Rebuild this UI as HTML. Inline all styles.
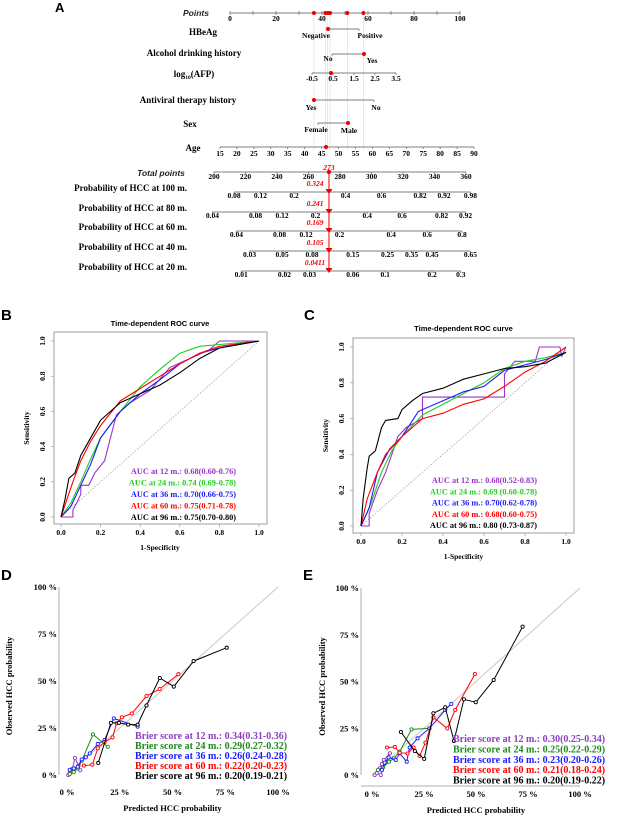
<!DOCTYPE html>
<html><head><meta charset="utf-8">
<style>
html,body{margin:0;padding:0;background:#fff;}
svg{display:block;}
.s{font-family:"Liberation Serif",serif;font-weight:bold;}
.a{font-family:"Liberation Sans",sans-serif;font-weight:bold;}
</style></head>
<body>
<svg id="fig" width="623" height="819" viewBox="0 0 623 819" xmlns="http://www.w3.org/2000/svg">
<g id="nomo">
<text x="55" y="12" class="a" font-size="13">A</text>
</g>
<g id="rocB"></g>
<g id="rocC"></g>
<g id="calD"></g>
<g id="calE"></g>
</svg>
<script>
const NS="http://www.w3.org/2000/svg";
function mk(parent,tag,attrs,txt){const e=document.createElementNS(NS,tag);for(const k in attrs)e.setAttribute(k,attrs[k]);if(txt!==undefined)e.textContent=txt;parent.appendChild(e);return e;}
const S=1.2;

/* ---------- Nomogram data ---------- */
const pointTicks=[0,20,40,60,80,100];
const patientPoints=[36.5,41.5,42.5,43.5,51,58];
const ageTicks=[15,20,25,30,35,40,45,50,55,60,65,70,75,80,85,90];
const afpTicks=["-0.5","0.5","1.5","2.5","3.5"];
const totalTicks=[200,220,240,260,280,300,320,340,360];
const totalValue=273;
const probRows=["Probability of HCC at 100 m.","Probability of HCC at 80 m.","Probability of HCC at 60 m.","Probability of HCC at 40 m.","Probability of HCC at 20 m."];
const probValues=["0.324","0.241","0.169","0.105","0.0411"];
const prob100=[["0.08",195],["0.12",217],["0.2",245],["0.4",288],["0.6",318],["0.82",350],["0.92",370],["0.98",392]];
const prob80=[["0.04",177],["0.08",213],["0.12",235],["0.2",263],["0.4",306],["0.6",335],["0.82",368],["0.92",388]];
const prob60=[["0.04",197],["0.08",233],["0.12",255],["0.2",283],["0.4",326],["0.6",356],["0.8",385]];
const prob40=[["0.03",208],["0.05",235],["0.08",260],["0.15",294],["0.25",323],["0.35",343],["0.45",360],["0.65",392]];
const prob20=[["0.01",201],["0.02",237],["0.03",258],["0.06",294],["0.1",321],["0.2",360],["0.3",384]];

(function(){
const g=document.getElementById('nomo');
const ptX=v=>230+v*(460-230)/100;
const lineC="#555";
patientPoints.forEach(p=>{const l=mk(g,'line',{x1:ptX(p),y1:13,x2:ptX(p),y2:150,stroke:'#ddd','stroke-width':0.6});
});
let t=mk(g,'text',{x:196,y:16,'font-size':8.5,'font-style':'italic','text-anchor':'middle',class:'a',fill:'#222'},'Points');

mk(g,'line',{x1:230,y1:13,x2:460,y2:13,stroke:lineC,'stroke-width':0.8});
for(let v=0;v<=100;v+=10){mk(g,'line',{x1:ptX(v),y1:11,x2:ptX(v),y2:15,stroke:lineC,'stroke-width':0.6});}
pointTicks.forEach(v=>{const e=mk(g,'text',{x:ptX(v),y:21,'font-size':7.5,'text-anchor':'middle',class:'s'},v);
});
patientPoints.forEach(p=>{const c=mk(g,'circle',{cx:ptX(p),cy:13,r:2,fill:'#e00'});
});
const rows=[
 {label:'HBeAg',lx:203,ly:35,y:29,x1:328,x2:359,labs:[['Negative',316,38],['Positive',370,38]],dot:328,name:'hbeag'},
 {label:'Alcohol drinking history',lx:194,ly:56,y:54,x1:332,x2:364,labs:[['No',328,61],['Yes',372,63]],dot:364,name:'alcohol'},
 {label:'Antiviral therapy history',lx:188,ly:103,y:100,x1:314,x2:374,labs:[['Yes',311,110],['No',376,110]],dot:314,name:'antiviral'},
 {label:'Sex',lx:190,ly:127,y:123,x1:318,x2:348,labs:[['Female',316,132],['Male',349,133]],dot:348,name:'sex'}
];
rows.forEach(r=>{
 let e=mk(g,'text',{x:r.lx,y:r.ly,'font-size':9,'text-anchor':'middle',class:'s'},r.label);
 
 mk(g,'line',{x1:r.x1,y1:r.y,x2:r.x2,y2:r.y,stroke:lineC,'stroke-width':0.8});
 mk(g,'line',{x1:r.x1,y1:r.y,x2:r.x1,y2:r.y+2,stroke:lineC,'stroke-width':0.6});
 mk(g,'line',{x1:r.x2,y1:r.y,x2:r.x2,y2:r.y+2,stroke:lineC,'stroke-width':0.6});
 r.labs.forEach(l=>{const q=mk(g,'text',{x:l[1],y:l[2],'font-size':7.5,'text-anchor':'middle',class:'s'},l[0]);
 });
 const c=mk(g,'circle',{cx:r.dot,cy:r.y,r:2,fill:'#e00'});
 
});
let e=mk(g,'text',{x:194,y:77,'font-size':9,'text-anchor':'middle',class:'s'});

e.innerHTML='log<tspan font-size="5.5" dy="2">10</tspan><tspan dy="-2">(AFP)</tspan>';
mk(g,'line',{x1:312,y1:73,x2:396,y2:73,stroke:lineC,'stroke-width':0.8});
afpTicks.forEach((v,i)=>{const x=312+i*21;mk(g,'line',{x1:x,y1:73,x2:x,y2:75,stroke:lineC,'stroke-width':0.6});
const q=mk(g,'text',{x:x,y:81,'font-size':7.5,'text-anchor':'middle',class:'s'},v);});
let c=mk(g,'circle',{cx:331,cy:73,r:2,fill:'#e00'});
e=mk(g,'text',{x:193,y:151,'font-size':9,'text-anchor':'middle',class:'s'},'Age');
mk(g,'line',{x1:220,y1:147,x2:474,y2:147,stroke:lineC,'stroke-width':0.8});
ageTicks.forEach((v,i)=>{const x=220+i*(474-220)/15;mk(g,'line',{x1:x,y1:147,x2:x,y2:149,stroke:lineC,'stroke-width':0.6});
const q=mk(g,'text',{x:x,y:156,'font-size':7.5,'text-anchor':'middle',class:'s'},v);});
c=mk(g,'circle',{cx:326,cy:147,r:2,fill:'#e00'});
const tX=v=>214+(v-200)*(466-214)/160;
e=mk(g,'text',{x:161,y:176,'font-size':8.5,'font-style':'italic','text-anchor':'middle',class:'a',fill:'#222'},'Total points');

mk(g,'line',{x1:214,y1:172,x2:466,y2:172,stroke:lineC,'stroke-width':0.8});
totalTicks.forEach(v=>{mk(g,'line',{x1:tX(v),y1:172,x2:tX(v),y2:174,stroke:lineC,'stroke-width':0.6});
const q=mk(g,'text',{x:tX(v),y:179,'font-size':7.5,'text-anchor':'middle',class:'s'},v);});
const tx=tX(totalValue);
e=mk(g,'text',{x:tx,y:170,'font-size':7.5,'font-style':'italic','text-anchor':'middle',class:'s',fill:'#e00'},totalValue);

mk(g,'line',{x1:tx,y1:172,x2:tx,y2:271,stroke:'#e00','stroke-width':1});
c=mk(g,'circle',{cx:tx,cy:172,r:2.2,fill:'#e00'});
const pr=[prob100,prob80,prob60,prob40,prob20];
const ys=[192,212,231,251,271];
pr.forEach((ticks,i)=>{
 const y=ys[i];
 const q=mk(g,'text',{x:187,y:y-1,'font-size':9,'text-anchor':'end',class:'s'},probRows[i]);
 
 mk(g,'line',{x1:ticks[0][1]*S,y1:y,x2:ticks[ticks.length-1][1]*S,y2:y,stroke:lineC,'stroke-width':0.8});
 ticks.forEach(tk=>{mk(g,'line',{x1:tk[1]*S,y1:y,x2:tk[1]*S,y2:y+2,stroke:lineC,'stroke-width':0.6});
  const w=mk(g,'text',{x:tk[1]*S,y:y+6,'font-size':7.5,'text-anchor':'middle',class:'s'},tk[0]);
  });
 const v=mk(g,'text',{x:315,y:y-6,'font-size':7.5,'font-style':'italic','text-anchor':'middle',class:'s',fill:'#e00'},probValues[i]);
 
 const tri=mk(g,'polygon',{points:`${tx-3.5},${y-3} ${tx+3.5},${y-3} ${tx},${y+2}`,fill:'#e00'});
 
});
})();

/* ---------- ROC data ---------- */
const rocSeriesNames=["12 m.","24 m.","36 m.","60 m.","96 m."];
const rocColors=["#9933cc","#22cc22","#1a1aff","#ff0000","#000000"];
const rocB12=[[0,0],[0.06,0],[0.06,0.04],[0.08,0.08],[0.1,0.13],[0.1,0.18],[0.14,0.18],[0.17,0.25],[0.22,0.32],[0.25,0.45],[0.28,0.58],[0.35,0.65],[0.45,0.72],[0.55,0.85],[0.65,0.9],[0.75,0.95],[0.8,1],[1,1]];
const rocB24=[[0,0],[0.05,0.08],[0.1,0.2],[0.15,0.33],[0.2,0.45],[0.3,0.6],[0.4,0.74],[0.5,0.84],[0.6,0.93],[0.7,0.97],[0.8,0.98],[1,1]];
const rocB36=[[0,0],[0.05,0.06],[0.1,0.18],[0.15,0.3],[0.2,0.45],[0.3,0.6],[0.4,0.7],[0.5,0.78],[0.6,0.87],[0.7,0.93],[0.8,0.96],[1,1]];
const rocB60=[[0,0],[0.03,0.1],[0.06,0.2],[0.1,0.32],[0.15,0.43],[0.2,0.52],[0.3,0.66],[0.4,0.73],[0.5,0.8],[0.6,0.87],[0.7,0.93],[0.8,0.97],[1,1]];
const rocB96=[[0,0],[0.02,0.1],[0.04,0.22],[0.07,0.25],[0.1,0.35],[0.15,0.45],[0.2,0.55],[0.25,0.6],[0.3,0.65],[0.4,0.7],[0.5,0.75],[0.6,0.82],[0.7,0.9],[0.8,0.96],[1,1]];
const rocC12=[[0,0],[0.04,0],[0.04,0.07],[0.08,0.2],[0.12,0.3],[0.15,0.4],[0.18,0.5],[0.22,0.55],[0.3,0.6],[0.3,0.72],[0.7,0.72],[0.7,0.85],[0.75,0.92],[0.85,0.92],[0.87,1],[0.97,1],[0.98,0.95],[1,1]];
const rocC24=[[0,0],[0.05,0.13],[0.1,0.3],[0.15,0.42],[0.2,0.5],[0.3,0.62],[0.4,0.68],[0.5,0.74],[0.6,0.8],[0.7,0.88],[0.8,0.92],[0.9,0.94],[1,0.97]];
const rocC36=[[0,0],[0.04,0.1],[0.08,0.3],[0.14,0.43],[0.2,0.5],[0.28,0.64],[0.4,0.7],[0.5,0.75],[0.6,0.78],[0.7,0.87],[0.8,0.9],[0.9,0.93],[1,0.97]];
const rocC60=[[0,0],[0.03,0.15],[0.08,0.3],[0.12,0.4],[0.2,0.5],[0.3,0.6],[0.4,0.63],[0.5,0.68],[0.6,0.71],[0.7,0.78],[0.8,0.86],[0.9,0.92],[1,1]];
const rocC96=[[0,0],[0.01,0.15],[0.03,0.32],[0.04,0.39],[0.07,0.42],[0.1,0.55],[0.12,0.59],[0.18,0.6],[0.2,0.65],[0.25,0.7],[0.3,0.74],[0.4,0.77],[0.5,0.82],[0.6,0.85],[0.7,0.88],[0.8,0.89],[0.9,0.91],[1,0.97]];
const aucB=["0.68(0.60-0.76)","0.74 (0.69-0.78)","0.70(0.66-0.75)","0.75(0.71-0.78)","0.75(0.70-0.80)"];
const aucC=["0.68(0.52-0.83)","0.69 (0.60-0.78)","0.70(0.62-0.78)","0.68(0.60-0.75)","0.80 (0.73-0.87)"];
const rocTicks=["0.0","0.2","0.4","0.6","0.8","1.0"];

function roc(id,L,cfg,series,auc){
 const g=document.getElementById(id);
 const X=v=>cfg.x0+v*(cfg.x1-cfg.x0), Y=v=>cfg.y0-v*(cfg.y0-cfg.y1);
 let e=mk(g,'text',{x:cfg.lx,y:cfg.ly,'font-size':15,class:'a'},L);
 e=mk(g,'text',{x:(cfg.x0+cfg.x1)/2,y:cfg.ty,'font-size':7.5,class:'a','text-anchor':'middle'},'Time-dependent ROC curve');
 
 e=mk(g,'rect',{x:cfg.bx0,y:cfg.by0,width:cfg.bx1-cfg.bx0,height:cfg.by1-cfg.by0,fill:'none',stroke:'#888','stroke-width':0.8});
 
 e=mk(g,'line',{x1:X(0),y1:Y(0),x2:X(1),y2:Y(1),stroke:'#444','stroke-width':0.5,'stroke-dasharray':'1.5,1.5'});
 
 rocTicks.forEach((t,i)=>{const v=i/5;
  mk(g,'line',{x1:X(v),y1:cfg.by1,x2:X(v),y2:cfg.by1+3,stroke:'#888','stroke-width':0.6});
  let q=mk(g,'text',{x:X(v),y:cfg.by1+11,'font-size':7.5,class:'s','text-anchor':'middle'},t);
  mk(g,'line',{x1:cfg.bx0-3,y1:Y(v),x2:cfg.bx0,y2:Y(v),stroke:'#888','stroke-width':0.6});
  q=mk(g,'text',{x:0,y:0,'font-size':7.5,class:'s','text-anchor':'middle',transform:`translate(${cfg.bx0-9},${Y(v)}) rotate(-90)`},t);
 });
 e=mk(g,'text',{x:0,y:0,'font-size':7.5,class:'s','text-anchor':'middle',transform:`translate(${cfg.bx0-25},${(cfg.by0+cfg.by1)/2}) rotate(-90)`},'Sensitivity');
 
 e=mk(g,'text',{x:(cfg.x0+cfg.x1)/2,y:cfg.xty,'font-size':7.5,class:'s','text-anchor':'middle'},'1-Specificity');
 
 series.forEach((s,k)=>{
  let d='';s.forEach((p,i)=>{d+=(i?'L':'M')+X(p[0]).toFixed(1)+','+Y(p[1]).toFixed(1);});
  const pth=mk(g,'path',{d:d,fill:'none',stroke:rocColors[k],'stroke-width':1.1});
  
  const q=mk(g,'text',{x:cfg.legx,y:cfg.legy+k*cfg.legdy,'font-size':8.3,class:'s','text-anchor':'end',fill:rocColors[k]},'AUC at '+rocSeriesNames[k]+': '+auc[k]);
  
 });
}
roc('rocB','B',{lx:1,ly:320,ty:326,xty:550,x0:61,x1:259,y0:517,y1:341,bx0:54,bx1:267,by0:332,by1:524,legx:236,legy:474,legdy:11.5},[rocB12,rocB24,rocB36,rocB60,rocB96],aucB);
roc('rocC','C',{lx:304,ly:320,ty:331,xty:559,x0:361,x1:566,y0:526,y1:347,bx0:353,bx1:574,by0:338,by1:533,legx:537,legy:483,legdy:11.3},[rocC12,rocC24,rocC36,rocC60,rocC96],aucC);

/* ---------- Calibration data (percent) ---------- */
const calNames=["12 m.","24 m.","36 m.","60 m.","96 m."];
const calColors=["#8a3fbf","#1a8a1a","#1a1aff","#ff0000","#000000"];
const calTicks=["0 %","25 %","50 %","75 %","100 %"];
const calD12=[[0.6,0],[1.3,1.4],[2.5,3.2],[3.8,9],[5.5,5],[6.3,2.5]];
const calD24=[[1.3,0.5],[3.2,1.5],[5.1,3.5],[7,7.6],[12.3,21.6],[19.3,15]];
const calD36=[[1.3,2.7],[3.2,3.5],[5.1,4.4],[7,8.3],[8.9,9.4],[10.8,11.5],[14.6,16.5],[17.8,18.6],[22.2,30.1],[33.5,25.7]];
const calD60=[[8,5],[12,5.5],[14.6,14.2],[17.8,17.5],[21.6,20],[23.5,27.5],[26,30.7],[30.7,32.7],[37.7,42],[43.9,45.7],[52.8,53.6]];
const calD96=[[14.8,6.4],[20.8,27.7],[24.6,27.7],[29,26.8],[33.5,26.8],[37.7,37],[44,51.6],[50.6,47],[60,60.6],[75.7,67.7]];
const calE12=[[1.3,0],[2.3,1],[3.8,3.6],[4.8,5.9],[5.7,8],[8.6,11.6],[4.2,0]];
const calE24=[[2.9,2.7],[5.3,4.1],[8.2,7.1],[10.5,8.9],[13.3,12.5],[19,24.4],[27.6,24.9]];
const calE36=[[4.8,2.7],[6.1,6.6],[8,9.4],[11.4,8],[13.3,11.6],[16.7,7.1],[18.1,14.7],[21.9,19.6],[27.6,24.9],[35.2,34.8],[38.1,38]];
const calE60=[[7.2,14.7],[11,15],[13.3,11.9],[17.1,11.5],[20,14.7],[22.9,10.2],[25.7,17.3],[29.5,30.8],[36.2,24.9],[40,34.8],[49.5,54]];
const calE96=[[13.9,23],[20.6,12.8],[25.1,8.6],[29.5,33],[35.2,36.2],[39.4,18.2],[44.2,40.5],[49.9,38.9],[58.5,50.8],[72.4,79.3]];
const brierD=["0.34(0.31-0.36)","0.29(0.27-0.32)","0.26(0.24-0.28)","0.22(0.20-0.23)","0.20(0.19-0.21)"];
const brierE=["0.30(0.25-0.34)","0.25(0.22-0.29)","0.23(0.20-0.26)","0.21(0.18-0.24)","0.20(0.19-0.22)"];

function cal(id,L,cfg,series,brier){
 const g=document.getElementById(id);
 const X=v=>cfg.x0+v/100*(cfg.x1-cfg.x0), Y=v=>cfg.y0-v/100*(cfg.y0-cfg.y1);
 let e=mk(g,'text',{x:cfg.lx,y:cfg.ly,'font-size':15,class:'a'},L);
 e=mk(g,'line',{x1:X(0),y1:Y(0),x2:X(100),y2:Y(100),stroke:'#c8c8c8','stroke-width':1});
 
 e=mk(g,'line',{x1:cfg.ax,y1:Y(100),x2:cfg.ax,y2:Y(0),stroke:'#999','stroke-width':0.8});
 
 if(cfg.xline){e=mk(g,'line',{x1:cfg.ax,y1:cfg.xline,x2:X(100),y2:cfg.xline,stroke:'#999','stroke-width':0.8});}
 calTicks.forEach((t,i)=>{const v=i*25;
  let q=mk(g,'text',{x:cfg.ax-2,y:Y(v)+3,'font-size':8.5,class:'s','text-anchor':'end'},t);
  q=mk(g,'text',{x:X(v),y:cfg.ty,'font-size':8.5,class:'s','text-anchor':'middle'},t);
 });
 e=mk(g,'text',{x:0,y:0,'font-size':8.5,class:'s','text-anchor':'middle',transform:`translate(${cfg.ytx},${(Y(0)+Y(100))/2+5}) rotate(-90)`},'Observed HCC probability');
 
 e=mk(g,'text',{x:(X(0)+X(100))/2,y:cfg.ty+16,'font-size':8.5,class:'s','text-anchor':'middle'},'Predicted HCC probability');
 
 series.forEach((s,k)=>{
  let d='';s.forEach((p,i)=>{d+=(i?'L':'M')+X(p[0]).toFixed(1)+','+Y(p[1]).toFixed(1);});
  const pth=mk(g,'path',{d:d,fill:'none',stroke:calColors[k],'stroke-width':1});
  
  s.forEach(p=>{const c=mk(g,'circle',{cx:X(p[0]),cy:Y(p[1]),r:1.6,fill:'#fff',stroke:calColors[k],'stroke-width':0.9});
   });
 });
 series.forEach((s,k)=>{
  const q=mk(g,'text',{x:cfg.legx,y:cfg.legy+k*cfg.legdy,'font-size':10,class:'s',fill:calColors[k]},'Brier score at '+calNames[k]+': '+brier[k]);
  
 });
}
cal('calD','D',{lx:1,ly:580,x0:67,x1:278,y0:775,y1:587,ax:59,ty:795,ytx:12,legx:135,legy:739,legdy:10},[calD12,calD24,calD36,calD60,calD96],brierD);
cal('calE','E',{lx:303,ly:580,x0:372,x1:580,y0:775,y1:588,ax:361,xline:786,ty:797,ytx:325,legx:453,legy:742,legdy:10.4},[calE12,calE24,calE36,calE60,calE96],brierE);
</script>
</body></html>
